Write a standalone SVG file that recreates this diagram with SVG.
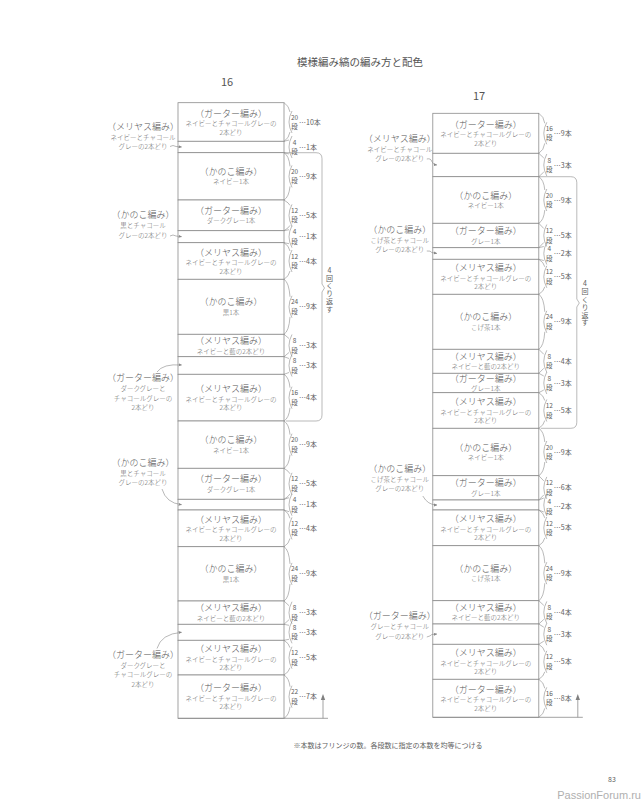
<svg xmlns="http://www.w3.org/2000/svg" width="642" height="800" viewBox="0 0 642 800">
<defs>
<style>
text{font-family:"Noto Sans CJK JP","Noto Sans CJK SC",sans-serif}
.box{fill:#fff;stroke:#8c8c8c;stroke-width:0.8}
.h{font-size:9px;fill:#555;text-anchor:middle;font-weight:300}
.s{font-size:6.5px;fill:#666;text-anchor:middle;font-weight:300}
.n{font-size:6.5px;fill:#606060;text-anchor:middle}
.c{font-size:7px;fill:#606060}
.br{fill:none;stroke:#8c8c8c;stroke-width:0.6}
.ld{fill:none;stroke:#888;stroke-width:0.6;marker-end:url(#ah)}
.ln{fill:none;stroke:#8c8c8c;stroke-width:0.8}
.v{font-size:7px;fill:#606060;writing-mode:vertical-rl;text-orientation:upright;letter-spacing:0.9px}
</style>
<marker id="ah" viewBox="0 0 6 6" refX="5" refY="3" markerWidth="3.5" markerHeight="3.5" markerUnits="userSpaceOnUse" orient="auto"><path d="M0,0.5 L6,3 L0,5.5Z" fill="#888"/></marker>
</defs>
<rect width="642" height="800" fill="#fff"/>
<text x="360" y="66" style="font-size:10.5px;fill:#555;text-anchor:middle">模様編み縞の編み方と配色</text>

<!-- ===== Column 16 ===== -->
<g id="col16">
<text x="227" y="86.3" style="font-size:11px;fill:#555;text-anchor:middle">16</text>
<g id="L1"><rect class="box" x="178" y="102.7" width="106" height="38.6"/><text class="h" x="231" y="116.5">（ガーター編み）</text><text class="s" x="231" y="126">ネイビーとチャコールグレーの</text><text class="s" x="231" y="134.5">2本どり</text><path class="br" d="M284,102.7 Q289,105.7 290,112 M290,132 Q289,138.3 284,141.3 M292,111 Q286,122 292,133"/><text class="n" x="294.5" y="119.5">20</text><text class="n" x="294.5" y="129">段</text><text class="c" x="299" y="124.5">…10本</text></g>
<g id="L2"><rect class="box" x="178" y="141.3" width="106" height="11.4"/><path class="br" d="M284,141.3 L289,140 M289,154 L284,152.7 M292,136 Q286,147 292,158"/><text class="n" x="294.5" y="144.5">4</text><text class="n" x="294.5" y="154">段</text><text class="c" x="299" y="149.5">…1本</text></g>
<g id="L3"><rect class="box" x="178" y="152.7" width="106" height="47.3"/><text class="h" x="231" y="174.9">（かのこ編み）</text><text class="s" x="231" y="184.4">ネイビー1本</text><path class="br" d="M284,152.7 Q289,155.7 290,166.4 M290,186.4 Q289,197 284,200 M292,165.4 Q286,176.4 292,187.4"/><text class="n" x="294.5" y="173.9">20</text><text class="n" x="294.5" y="183.4">段</text><text class="c" x="299" y="178.9">…9本</text></g>
<g id="L4"><rect class="box" x="178" y="200" width="106" height="30.7"/><text class="h" x="231" y="213.9">（ガーター編み）</text><text class="s" x="231" y="223.4">ダークグレー1本</text><path class="br" d="M284,200 Q289,203 290,205.4 M290,225.4 Q289,227.7 284,230.7 M292,204.4 Q286,215.4 292,226.4"/><text class="n" x="294.5" y="212.9">12</text><text class="n" x="294.5" y="222.4">段</text><text class="c" x="299" y="217.9">…5本</text></g>
<g id="L5"><rect class="box" x="178" y="230.7" width="106" height="12"/><path class="br" d="M284,230.7 L289,229.7 M289,243.7 L284,242.7 M292,225.7 Q286,236.7 292,247.7"/><text class="n" x="294.5" y="234.2">4</text><text class="n" x="294.5" y="243.7">段</text><text class="c" x="299" y="239.2">…1本</text></g>
<g id="L6"><rect class="box" x="178" y="242.7" width="106" height="36.6"/><text class="h" x="231" y="255.5">（メリヤス編み）</text><text class="s" x="231" y="265">ネイビーとチャコールグレーの</text><text class="s" x="231" y="273.5">2本どり</text><path class="br" d="M284,242.7 Q289,245.7 290,251 M290,271 Q289,276.3 284,279.3 M292,250 Q286,261 292,272"/><text class="n" x="294.5" y="258.5">12</text><text class="n" x="294.5" y="268">段</text><text class="c" x="299" y="263.5">…4本</text></g>
<g id="L7"><rect class="box" x="178" y="279.3" width="106" height="55"/><text class="h" x="231" y="305.3">（かのこ編み）</text><text class="s" x="231" y="314.8">黒1本</text><path class="br" d="M284,279.3 Q289,282.3 290,296.8 M290,316.8 Q289,331.3 284,334.3 M292,295.8 Q286,306.8 292,317.8"/><text class="n" x="294.5" y="304.3">24</text><text class="n" x="294.5" y="313.8">段</text><text class="c" x="299" y="309.3">…9本</text></g>
<g id="L8"><rect class="box" x="178" y="334.3" width="106" height="22.4"/><text class="h" x="231" y="344">（メリヤス編み）</text><text class="s" x="231" y="353.5">ネイビーと藍の2本どり</text><path class="br" d="M284,334.3 L289,338.5 M289,352.5 L284,356.7 M292,334.5 Q286,345.5 292,356.5"/><text class="n" x="294.5" y="343">8</text><text class="n" x="294.5" y="352.5">段</text><text class="c" x="299" y="348">…3本</text></g>
<g id="L9"><rect class="box" x="178" y="356.7" width="106" height="17.6"/><path class="br" d="M284,356.7 L289,358.5 M289,372.5 L284,374.3 M292,354.5 Q286,365.5 292,376.5"/><text class="n" x="294.5" y="363">8</text><text class="n" x="294.5" y="372.5">段</text><text class="c" x="299" y="368">…3本</text></g>
<g id="L10"><rect class="box" x="178" y="374.3" width="106" height="46.7"/><text class="h" x="231" y="392.2">（メリヤス編み）</text><text class="s" x="231" y="401.7">ネイビーとチャコールグレーの</text><text class="s" x="231" y="410.2">2本どり</text><path class="br" d="M284,374.3 Q289,377.3 290,387.7 M290,407.7 Q289,418 284,421 M292,386.7 Q286,397.7 292,408.7"/><text class="n" x="294.5" y="395.2">16</text><text class="n" x="294.5" y="404.7">段</text><text class="c" x="299" y="400.2">…4本</text></g>
<g id="L11"><rect class="box" x="178" y="421" width="106" height="47.3"/><text class="h" x="231" y="443.2">（かのこ編み）</text><text class="s" x="231" y="452.7">ネイビー1本</text><path class="br" d="M284,421 Q289,424 290,434.7 M290,454.7 Q289,465.3 284,468.3 M292,433.7 Q286,444.7 292,455.7"/><text class="n" x="294.5" y="442.2">20</text><text class="n" x="294.5" y="451.7">段</text><text class="c" x="299" y="447.2">…9本</text></g>
<g id="L12"><rect class="box" x="178" y="468.3" width="106" height="31"/><text class="h" x="231" y="482.3">（ガーター編み）</text><text class="s" x="231" y="491.8">ダークグレー1本</text><path class="br" d="M284,468.3 Q289,471.3 290,473.8 M290,493.8 Q289,496.3 284,499.3 M292,472.8 Q286,483.8 292,494.8"/><text class="n" x="294.5" y="481.3">12</text><text class="n" x="294.5" y="490.8">段</text><text class="c" x="299" y="486.3">…5本</text></g>
<g id="L13"><rect class="box" x="178" y="499.3" width="106" height="10.7"/><path class="br" d="M284,499.3 L289,497.7 M289,511.7 L284,510 M292,493.7 Q286,504.7 292,515.7"/><text class="n" x="294.5" y="502.2">4</text><text class="n" x="294.5" y="511.7">段</text><text class="c" x="299" y="507.2">…1本</text></g>
<g id="L14"><rect class="box" x="178" y="510" width="106" height="36.7"/><text class="h" x="231" y="522.9">（メリヤス編み）</text><text class="s" x="231" y="532.4">ネイビーとチャコールグレーの</text><text class="s" x="231" y="540.9">2本どり</text><path class="br" d="M284,510 Q289,513 290,518.4 M290,538.4 Q289,543.7 284,546.7 M292,517.4 Q286,528.4 292,539.4"/><text class="n" x="294.5" y="525.9">12</text><text class="n" x="294.5" y="535.4">段</text><text class="c" x="299" y="530.9">…4本</text></g>
<g id="L15"><rect class="box" x="178" y="546.7" width="106" height="54.3"/><text class="h" x="231" y="572.4">（かのこ編み）</text><text class="s" x="231" y="581.9">黒1本</text><path class="br" d="M284,546.7 Q289,549.7 290,563.9 M290,583.9 Q289,598 284,601 M292,562.9 Q286,573.9 292,584.9"/><text class="n" x="294.5" y="571.4">24</text><text class="n" x="294.5" y="580.9">段</text><text class="c" x="299" y="576.4">…9本</text></g>
<g id="L16"><rect class="box" x="178" y="601" width="106" height="23.3"/><text class="h" x="231" y="611.2">（メリヤス編み）</text><text class="s" x="231" y="620.7">ネイビーと藍の2本どり</text><path class="br" d="M284,601 L289,605.7 M289,619.7 L284,624.3 M292,601.7 Q286,612.7 292,623.7"/><text class="n" x="294.5" y="610.2">8</text><text class="n" x="294.5" y="619.7">段</text><text class="c" x="299" y="615.2">…3本</text></g>
<g id="L17"><rect class="box" x="178" y="624.3" width="106" height="16"/><path class="br" d="M284,624.3 L289,625.3 M289,639.3 L284,640.3 M292,621.3 Q286,632.3 292,643.3"/><text class="n" x="294.5" y="629.8">8</text><text class="n" x="294.5" y="639.3">段</text><text class="c" x="299" y="634.8">…3本</text></g>
<g id="L18"><rect class="box" x="178" y="640.3" width="106" height="34.7"/><text class="h" x="231" y="652.2">（メリヤス編み）</text><text class="s" x="231" y="661.7">ネイビーとチャコールグレーの</text><text class="s" x="231" y="670.2">2本どり</text><path class="br" d="M284,640.3 Q289,643.3 290,647.7 M290,667.7 Q289,672 284,675 M292,646.7 Q286,657.7 292,668.7"/><text class="n" x="294.5" y="655.2">12</text><text class="n" x="294.5" y="664.7">段</text><text class="c" x="299" y="660.2">…5本</text></g>
<g id="L19"><rect class="box" x="178" y="675" width="106" height="43.3"/><text class="h" x="231" y="691.2">（ガーター編み）</text><text class="s" x="231" y="700.7">ネイビーとチャコールグレーの</text><text class="s" x="231" y="709.2">2本どり</text><path class="br" d="M284,675 Q289,678 290,686.7 M290,706.7 Q289,715.3 284,718.3 M292,685.7 Q286,696.7 292,707.7"/><text class="n" x="294.5" y="694.2">22</text><text class="n" x="294.5" y="703.7">段</text><text class="c" x="299" y="699.2">…7本</text></g>

<g id="L-side1"><text class="h" x="143" y="129.8">（メリヤス編み）</text><text class="s" x="143" y="139.8">ネイビーとチャコール</text><text class="s" x="143" y="149.2">グレーの2本どり</text></g>
<g id="L-side2"><text class="h" x="143" y="217.9">（かのこ編み）</text><text class="s" x="143" y="227.8">黒とチャコール</text><text class="s" x="143" y="237.5">グレーの2本どり</text></g>
<g id="L-side3"><text class="h" x="143" y="381.4">（ガーター編み）</text><text class="s" x="143" y="391.3">ダークグレーと</text><text class="s" x="143" y="400.6">チャコールグレーの</text><text class="s" x="143" y="409.9">2本どり</text></g>
<g id="L-side4"><text class="h" x="143" y="465.9">（かのこ編み）</text><text class="s" x="143" y="475.8">黒とチャコール</text><text class="s" x="143" y="485.2">グレーの2本どり</text></g>
<g id="L-side5"><text class="h" x="143" y="658.2">（ガーター編み）</text><text class="s" x="143" y="668.1">ダークグレーと</text><text class="s" x="143" y="677.4">チャコールグレーの</text><text class="s" x="143" y="686.7">2本どり</text></g>
<g id="L-repeat"><text class="v" x="329.5" y="266.5">4回くり返す</text></g>
<g id="L-connectors">
<path class="ld" d="M170,146.5 Q173,144.5 176,146.5 L181.5,147"/>
<path class="ld" d="M170,236 Q173,234 176,236 L181.5,236.7"/>
<path class="ld" d="M157,372 Q163,363.5 181.5,365"/>
<path class="ld" d="M162,489 Q166,503 181.5,504.7"/>
<path class="ld" d="M157,648.5 Q161,634 181.5,632.3"/>
<path class="br" d="M284,152.7 H316 Q322,152.7 322,158.7 V284 L324.5,288 L322,292 V415 Q322,421 316,421 H286"/>
<path class="ln" d="M178,718.3 H328"/>
<path class="ln" d="M323,718.3 V699"/>
<polygon points="323,694 320.8,700 325.2,700" fill="#808080"/>
</g>
</g>

<!-- ===== Column 17 ===== -->
<g id="col17" transform="translate(254.8,0)">
<text x="224.2" y="99.7" style="font-size:11px;fill:#555;text-anchor:middle">17</text>
<g id="R1"><rect class="box" x="178" y="113.3" width="106" height="40"/><text class="h" x="231" y="127.8">（ガーター編み）</text><text class="s" x="231" y="137.3">ネイビーとチャコールグレーの</text><text class="s" x="231" y="145.8">2本どり</text><path class="br" d="M284,113.3 Q289,116.3 290,123.3 M290,143.3 Q289,150.3 284,153.3 M292,122.3 Q286,133.3 292,144.3"/><text class="n" x="294.5" y="130.8">16</text><text class="n" x="294.5" y="140.3">段</text><text class="c" x="299" y="135.8">…9本</text></g>
<g id="R2"><rect class="box" x="178" y="153.3" width="106" height="23.4"/><path class="br" d="M284,153.3 L289,158 M289,172 L284,176.7 M292,154 Q286,165 292,176"/><text class="n" x="294.5" y="162.5">8</text><text class="n" x="294.5" y="172">段</text><text class="c" x="299" y="167.5">…3本</text></g>
<g id="R3"><rect class="box" x="178" y="176.7" width="106" height="46.6"/><text class="h" x="231" y="198.5">（かのこ編み）</text><text class="s" x="231" y="208">ネイビー1本</text><path class="br" d="M284,176.7 Q289,179.7 290,190 M290,210 Q289,220.3 284,223.3 M292,189 Q286,200 292,211"/><text class="n" x="294.5" y="197.5">20</text><text class="n" x="294.5" y="207">段</text><text class="c" x="299" y="202.5">…9本</text></g>
<g id="R4"><rect class="box" x="178" y="223.3" width="106" height="24.4"/><text class="h" x="231" y="234">（ガーター編み）</text><text class="s" x="231" y="243.5">グレー1本</text><path class="br" d="M284,223.3 L289,228.5 M289,242.5 L284,247.7 M292,224.5 Q286,235.5 292,246.5"/><text class="n" x="294.5" y="233">12</text><text class="n" x="294.5" y="242.5">段</text><text class="c" x="299" y="238">…5本</text></g>
<g id="R5"><rect class="box" x="178" y="247.7" width="106" height="11.6"/><path class="br" d="M284,247.7 L289,246.5 M289,260.5 L284,259.3 M292,242.5 Q286,253.5 292,264.5"/><text class="n" x="294.5" y="251.3">4</text><text class="n" x="294.5" y="260.8">段</text><text class="c" x="299" y="256">…2本</text></g>
<g id="R6"><rect class="box" x="178" y="259.3" width="106" height="35"/><text class="h" x="231" y="271.3">（メリヤス編み）</text><text class="s" x="231" y="280.8">ネイビーとチャコールグレーの</text><text class="s" x="231" y="289.3">2本どり</text><path class="br" d="M284,259.3 Q289,262.3 290,266.8 M290,286.8 Q289,291.3 284,294.3 M292,265.8 Q286,276.8 292,287.8"/><text class="n" x="294.5" y="274.3">12</text><text class="n" x="294.5" y="283.8">段</text><text class="c" x="299" y="279.3">…5本</text></g>
<g id="R7"><rect class="box" x="178" y="294.3" width="106" height="55"/><text class="h" x="231" y="320.3">（かのこ編み）</text><text class="s" x="231" y="329.8">こげ茶1本</text><path class="br" d="M284,294.3 Q289,297.3 290,311.8 M290,331.8 Q289,346.3 284,349.3 M292,310.8 Q286,321.8 292,332.8"/><text class="n" x="294.5" y="319.3">24</text><text class="n" x="294.5" y="328.8">段</text><text class="c" x="299" y="324.3">…9本</text></g>
<g id="R8"><rect class="box" x="178" y="349.3" width="106" height="24"/><text class="h" x="231" y="359.8">（メリヤス編み）</text><text class="s" x="231" y="369.3">ネイビーと藍の2本どり</text><path class="br" d="M284,349.3 L289,354.3 M289,368.3 L284,373.3 M292,350.3 Q286,361.3 292,372.3"/><text class="n" x="294.5" y="358.8">8</text><text class="n" x="294.5" y="368.3">段</text><text class="c" x="299" y="363.8">…4本</text></g>
<g id="R9"><rect class="box" x="178" y="373.3" width="106" height="19.4"/><text class="h" x="231" y="381.5">（ガーター編み）</text><text class="s" x="231" y="391">グレー1本</text><path class="br" d="M284,373.3 L289,376 M289,390 L284,392.7 M292,372 Q286,383 292,394"/><text class="n" x="294.5" y="380.5">8</text><text class="n" x="294.5" y="390">段</text><text class="c" x="299" y="385.5">…3本</text></g>
<g id="R10"><rect class="box" x="178" y="392.7" width="106" height="35.6"/><text class="h" x="231" y="405">（メリヤス編み）</text><text class="s" x="231" y="414.5">ネイビーとチャコールグレーの</text><text class="s" x="231" y="423">2本どり</text><path class="br" d="M284,392.7 Q289,395.7 290,400.5 M290,420.5 Q289,425.3 284,428.3 M292,399.5 Q286,410.5 292,421.5"/><text class="n" x="294.5" y="408">12</text><text class="n" x="294.5" y="417.5">段</text><text class="c" x="299" y="413">…5本</text></g>
<g id="R11"><rect class="box" x="178" y="428.3" width="106" height="47.4"/><text class="h" x="231" y="450.5">（かのこ編み）</text><text class="s" x="231" y="460">ネイビー1本</text><path class="br" d="M284,428.3 Q289,431.3 290,442 M290,462 Q289,472.7 284,475.7 M292,441 Q286,452 292,463"/><text class="n" x="294.5" y="449.5">20</text><text class="n" x="294.5" y="459">段</text><text class="c" x="299" y="454.5">…9本</text></g>
<g id="R12"><rect class="box" x="178" y="475.7" width="106" height="24.3"/><text class="h" x="231" y="486.4">（ガーター編み）</text><text class="s" x="231" y="495.9">グレー1本</text><path class="br" d="M284,475.7 L289,480.9 M289,494.9 L284,500 M292,476.9 Q286,487.9 292,498.9"/><text class="n" x="294.5" y="485.4">12</text><text class="n" x="294.5" y="494.9">段</text><text class="c" x="299" y="490.4">…6本</text></g>
<g id="R13"><rect class="box" x="178" y="500" width="106" height="10"/><path class="br" d="M284,500 L289,498 M289,512 L284,510 M292,494 Q286,505 292,516"/><text class="n" x="294.5" y="504">4</text><text class="n" x="294.5" y="513.5">段</text><text class="c" x="299" y="508.5">…2本</text></g>
<g id="R14"><rect class="box" x="178" y="510" width="106" height="35.7"/><text class="h" x="231" y="522.4">（メリヤス編み）</text><text class="s" x="231" y="531.9">ネイビーとチャコールグレーの</text><text class="s" x="231" y="540.4">2本どり</text><path class="br" d="M284,510 Q289,513 290,517.9 M290,537.9 Q289,542.7 284,545.7 M292,516.9 Q286,527.9 292,538.9"/><text class="n" x="294.5" y="525.9">12</text><text class="n" x="294.5" y="535.4">段</text><text class="c" x="299" y="530.4">…5本</text></g>
<g id="R15"><rect class="box" x="178" y="545.7" width="106" height="55"/><text class="h" x="231" y="571.7">（かのこ編み）</text><text class="s" x="231" y="581.2">こげ茶1本</text><path class="br" d="M284,545.7 Q289,548.7 290,563.2 M290,583.2 Q289,597.7 284,600.7 M292,562.2 Q286,573.2 292,584.2"/><text class="n" x="294.5" y="570.7">24</text><text class="n" x="294.5" y="580.2">段</text><text class="c" x="299" y="575.7">…9本</text></g>
<g id="R16"><rect class="box" x="178" y="600.7" width="106" height="23.3"/><text class="h" x="231" y="610.9">（メリヤス編み）</text><text class="s" x="231" y="620.4">ネイビーと藍の2本どり</text><path class="br" d="M284,600.7 L289,605.4 M289,619.4 L284,624 M292,601.4 Q286,612.4 292,623.4"/><text class="n" x="294.5" y="609.9">8</text><text class="n" x="294.5" y="619.4">段</text><text class="c" x="299" y="614.9">…4本</text></g>
<g id="R17"><rect class="box" x="178" y="624" width="106" height="20.3"/><path class="br" d="M284,624 L289,627.2 M289,641.2 L284,644.3 M292,623.2 Q286,634.2 292,645.2"/><text class="n" x="294.5" y="631.7">8</text><text class="n" x="294.5" y="641.2">段</text><text class="c" x="299" y="636.7">…3本</text></g>
<g id="R18"><rect class="box" x="178" y="644.3" width="106" height="35"/><text class="h" x="231" y="656.3">（メリヤス編み）</text><text class="s" x="231" y="665.8">ネイビーとチャコールグレーの</text><text class="s" x="231" y="674.3">2本どり</text><path class="br" d="M284,644.3 Q289,647.3 290,651.8 M290,671.8 Q289,676.3 284,679.3 M292,650.8 Q286,661.8 292,672.8"/><text class="n" x="294.5" y="659.3">12</text><text class="n" x="294.5" y="668.8">段</text><text class="c" x="299" y="664.3">…5本</text></g>
<g id="R19"><rect class="box" x="178" y="679.3" width="106" height="38"/><text class="h" x="231" y="692.8">（ガーター編み）</text><text class="s" x="231" y="702.3">ネイビーとチャコールグレーの</text><text class="s" x="231" y="710.8">2本どり</text><path class="br" d="M284,679.3 Q289,682.3 290,688.3 M290,708.3 Q289,714.3 284,717.3 M292,687.3 Q286,698.3 292,709.3"/><text class="n" x="294.5" y="695.8">16</text><text class="n" x="294.5" y="705.3">段</text><text class="c" x="299" y="700.8">…8本</text></g>

<g id="R-side1"><text class="h" x="145" y="141.6">（メリヤス編み）</text><text class="s" x="145" y="151.5">ネイビーとチャコール</text><text class="s" x="145" y="160.7">グレーの2本どり</text></g>
<g id="R-side2"><text class="h" x="145" y="232.7">（かのこ編み）</text><text class="s" x="145" y="242.6">こげ茶とチャコール</text><text class="s" x="145" y="252">グレーの2本どり</text></g>
<g id="R-side3"><text class="h" x="145" y="471.9">（かのこ編み）</text><text class="s" x="145" y="481.8">こげ茶とチャコール</text><text class="s" x="145" y="491.1">グレーの2本どり</text></g>
<g id="R-side4"><text class="h" x="145" y="619.4">（ガーター編み）</text><text class="s" x="145" y="629.3">グレーとチャコール</text><text class="s" x="145" y="638.6">グレーの2本どり</text></g>
<g id="R-repeat"><text class="v" x="330.2" y="279.8">4回くり返す</text></g>
<g id="R-connectors">
<path class="ld" d="M172,159 Q176,158 177,161.5 Q178,164.5 182,165"/>
<path class="ld" d="M172,251 Q176,250.5 177,252.5 L182,253.5"/>
<path class="ld" d="M168,496 Q173,505 182,505"/>
<path class="ld" d="M172,637 Q176,636 177,634.5 L182,634"/>
<path class="br" d="M284,176.7 H316 Q322,176.7 322,182.7 V299 L324.5,303 L322,307 V422.3 Q322,428.3 316,428.3 H286"/>
<path class="ln" d="M178,717.3 H328"/>
<path class="ln" d="M323,717.3 V699"/>
<polygon points="323,694 320.8,700 325.2,700" fill="#808080"/>
</g>
</g>

<text x="388" y="747.5" style="font-size:7px;fill:#606060;text-anchor:middle">※本数はフリンジの数。各段数に指定の本数を均等につける</text>
<text x="612" y="782" style="font-size:7px;fill:#606060;text-anchor:middle">83</text>
<text x="641" y="799" style="font-family:'Liberation Sans',sans-serif;font-size:11px;fill:#b0b0b0;text-anchor:end">PassionForum.ru</text>
</svg>
